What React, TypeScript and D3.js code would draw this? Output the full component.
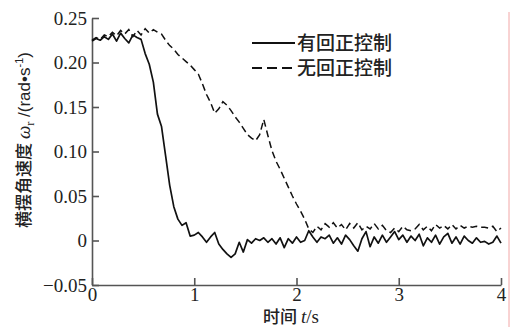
import React, { useEffect, useRef } from 'react';
import * as d3 from 'd3';

const time = [
  0.0, 0.04, 0.08, 0.12, 0.16, 0.2, 0.24, 0.28, 0.32, 0.36,
  0.4, 0.44, 0.48, 0.52, 0.56, 0.6, 0.64, 0.68, 0.72, 0.76,
  0.8, 0.84, 0.88, 0.92, 0.96, 1.0, 1.04, 1.08, 1.12, 1.16,
  1.2, 1.24, 1.28, 1.32, 1.36, 1.4, 1.44, 1.48, 1.52, 1.56,
  1.6, 1.64, 1.68, 1.72, 1.76, 1.8, 1.84, 1.88, 1.92, 1.96,
  2.0, 2.04, 2.08, 2.12, 2.16, 2.2, 2.24, 2.28, 2.32, 2.36,
  2.4, 2.44, 2.48, 2.52, 2.56, 2.6, 2.64, 2.68, 2.72, 2.76,
  2.8, 2.84, 2.88, 2.92, 2.96, 3.0, 3.04, 3.08, 3.12, 3.16,
  3.2, 3.24, 3.28, 3.32, 3.36, 3.4, 3.44, 3.48, 3.52, 3.56,
  3.6, 3.64, 3.68, 3.72, 3.76, 3.8, 3.84, 3.88, 3.92, 3.96,
  4.0,
];

// 有回正控制
const withControl = [
  0.224, 0.227, 0.225, 0.229, 0.226, 0.232, 0.224, 0.233, 0.227, 0.222,
  0.231, 0.228, 0.226, 0.21, 0.198, 0.178, 0.142, 0.128, 0.095, 0.062,
  0.038, 0.024, 0.017, 0.02, 0.005, 0.006, 0.009, 0.004, -0.002, 0.004,
  0.009, -0.004, -0.01, -0.015, -0.019, -0.015, -0.002, -0.013, 0.001, -0.003,
  0.002, 0.0, 0.003, -0.002, 0.002, -0.004, 0.003, -0.008, 0.002, -0.003,
  0.004, -0.002, 0.0, 0.011, 0.004, -0.002, 0.004, 0.002, 0.006, -0.003,
  0.003, -0.004, 0.006, 0.001, -0.006, -0.012, 0.002, 0.01, -0.007, 0.004,
  -0.003, 0.006, -0.002, 0.004, 0.01, 0.001, 0.006, -0.002, 0.005, 0.0,
  0.007, -0.006, 0.003, -0.002, 0.006, -0.004, 0.004, 0.008, -0.003, 0.004,
  -0.004, 0.005, 0.0, -0.003, 0.003, -0.002, -0.001, -0.004, -0.002, 0.005,
  -0.003,
];

// 无回正控制
const withoutControl = [
  0.225, 0.228, 0.226, 0.231, 0.229, 0.234, 0.23, 0.236, 0.232, 0.237,
  0.229, 0.236, 0.231, 0.238, 0.233, 0.237, 0.234, 0.232, 0.225, 0.219,
  0.215, 0.209, 0.205, 0.201, 0.197, 0.192, 0.187, 0.176, 0.164, 0.155,
  0.143, 0.148, 0.156, 0.152, 0.146, 0.139, 0.133, 0.126, 0.119, 0.115,
  0.112, 0.119, 0.136, 0.118, 0.101, 0.089, 0.08, 0.07, 0.06, 0.05,
  0.041, 0.033, 0.024, 0.013, 0.009, 0.016, 0.012, 0.019, 0.015, 0.02,
  0.014, 0.018, 0.012, 0.019, 0.014, 0.02, 0.012, 0.016, 0.013, 0.019,
  0.013, 0.017, 0.011, 0.009, 0.014, 0.01, 0.016, 0.012, 0.011, 0.013,
  0.018, 0.012, 0.016, 0.011, 0.018, 0.014, 0.017, 0.013, 0.018, 0.013,
  0.017, 0.014, 0.016, 0.015, 0.016, 0.015, 0.015, 0.014, 0.016, 0.01,
  0.014,
];

const xTicks = [0, 1, 2, 3, 4];
const xTickLabels = ['0', '1', '2', '3', '4'];
const yTicks = [-0.05, 0, 0.05, 0.1, 0.15, 0.2, 0.25];
const yTickLabels = ['\u22120.05', '0', '0.05', '0.10', '0.15', '0.20', '0.25'];
const legendLabels = ['有回正控制', '无回正控制'];

const W = 511;
const H = 327;
const serif = '"Liberation Serif", "DejaVu Serif", serif';
const sans = '"Liberation Sans", Arial, sans-serif';
const cjk = '"Noto Sans CJK SC", sans-serif';

export default function App() {
  const ref = useRef<SVGSVGElement | null>(null);

  useEffect(() => {
    const svg = d3.select(ref.current);
    svg.selectAll('*').remove();

    const x = d3.scaleLinear().domain([0, 4]).range([92, 501]);
    const y = d3.scaleLinear().domain([-0.05, 0.25]).range([285, 18]);

    // page edge line on the right
    svg.append('line')
      .attr('x1', 509).attr('x2', 509).attr('y1', 12).attr('y2', H)
      .attr('stroke', '#f2a6a6').attr('stroke-width', 1);

    const yAxis = d3.axisLeft(y)
      .tickValues(yTicks)
      .tickSizeInner(-7)
      .tickSizeOuter(0)
      .tickPadding(5)
      .tickFormat((d, i) => yTickLabels[i]);
    const gy = svg.append('g').attr('transform', 'translate(92,0)').call(yAxis);

    const xAxis = d3.axisBottom(x)
      .tickValues(xTicks)
      .tickSizeInner(-7)
      .tickSizeOuter(0)
      .tickPadding(2)
      .tickFormat((d, i) => xTickLabels[i]);
    const gx = svg.append('g').attr('transform', 'translate(0,285)').call(xAxis);

    [gx, gy].forEach(g => {
      g.attr('font-family', null).attr('font-size', null);
      g.select('.domain').attr('stroke', '#555').attr('stroke-width', 1.6);
      g.selectAll('.tick line').attr('stroke', '#555').attr('stroke-width', 1.6);
      g.selectAll('.tick text')
        .attr('fill', '#222')
        .style('font-family', serif)
        .style('font-size', '19px');
    });

    const line = d3.line<number>()
      .x((d, i) => x(time[i]))
      .y(d => y(d));

    svg.append('path')
      .datum(withoutControl)
      .attr('d', line)
      .attr('fill', 'none')
      .attr('stroke', '#111')
      .attr('stroke-width', 1.5)
      .attr('stroke-dasharray', '7,4');

    svg.append('path')
      .datum(withControl)
      .attr('d', line)
      .attr('fill', 'none')
      .attr('stroke', '#111')
      .attr('stroke-width', 1.7)
      .attr('stroke-linejoin', 'round');

    // legend
    const legend = svg.selectAll('.legend')
      .data(legendLabels)
      .enter()
      .append('g')
      .attr('class', 'legend')
      .attr('transform', (d, i) => `translate(252,${43 + i * 25})`);

    legend.append('line')
      .attr('x1', 0).attr('x2', 43).attr('y1', 0).attr('y2', 0)
      .attr('stroke', '#111')
      .attr('stroke-width', 1.8)
      .attr('stroke-dasharray', (d, i) => (i === 0 ? null : '10,5'));

    legend.append('text')
      .attr('x', 45)
      .attr('y', 7)
      .attr('fill', '#222')
      .style('font-family', cjk)
      .style('font-size', '19px')
      .style('font-weight', 500)
      .text(d => d);

    // y label
    const yl = svg.append('text')
      .attr('transform', 'translate(30,140) rotate(-90)')
      .attr('text-anchor', 'middle')
      .attr('fill', '#222')
      .style('font-size', '17px');
    yl.append('tspan').style('font-family', cjk).style('font-weight', 500).text('横摆角速度 ');
    yl.append('tspan').style('font-family', serif).style('font-style', 'italic').style('font-size', '19px').text('ω');
    yl.append('tspan').style('font-family', serif).style('font-size', '12px').attr('dy', 4).text('r');
    yl.append('tspan').style('font-family', sans).attr('dy', -4).text(' /(rad•s');
    yl.append('tspan').style('font-family', sans).style('font-size', '11px').attr('dy', -7).text('-1');
    yl.append('tspan').style('font-family', sans).attr('dy', 7).text(')');

    // x label
    const xl = svg.append('text')
      .attr('x', 291)
      .attr('y', 323)
      .attr('text-anchor', 'middle')
      .attr('fill', '#222')
      .style('font-size', '17px');
    xl.append('tspan').style('font-family', cjk).style('font-weight', 500).text('时间 ');
    xl.append('tspan').style('font-family', serif).style('font-style', 'italic').style('font-size', '19px').text('t');
    xl.append('tspan').style('font-family', serif).style('font-size', '19px').text('/s');
  }, []);

  return (
    <div style={{ position: 'absolute', left: 0, top: 0 }}>
      <svg ref={ref} width={W} height={H} style={{ display: 'block', background: '#fff' }} />
    </div>
  );
}
